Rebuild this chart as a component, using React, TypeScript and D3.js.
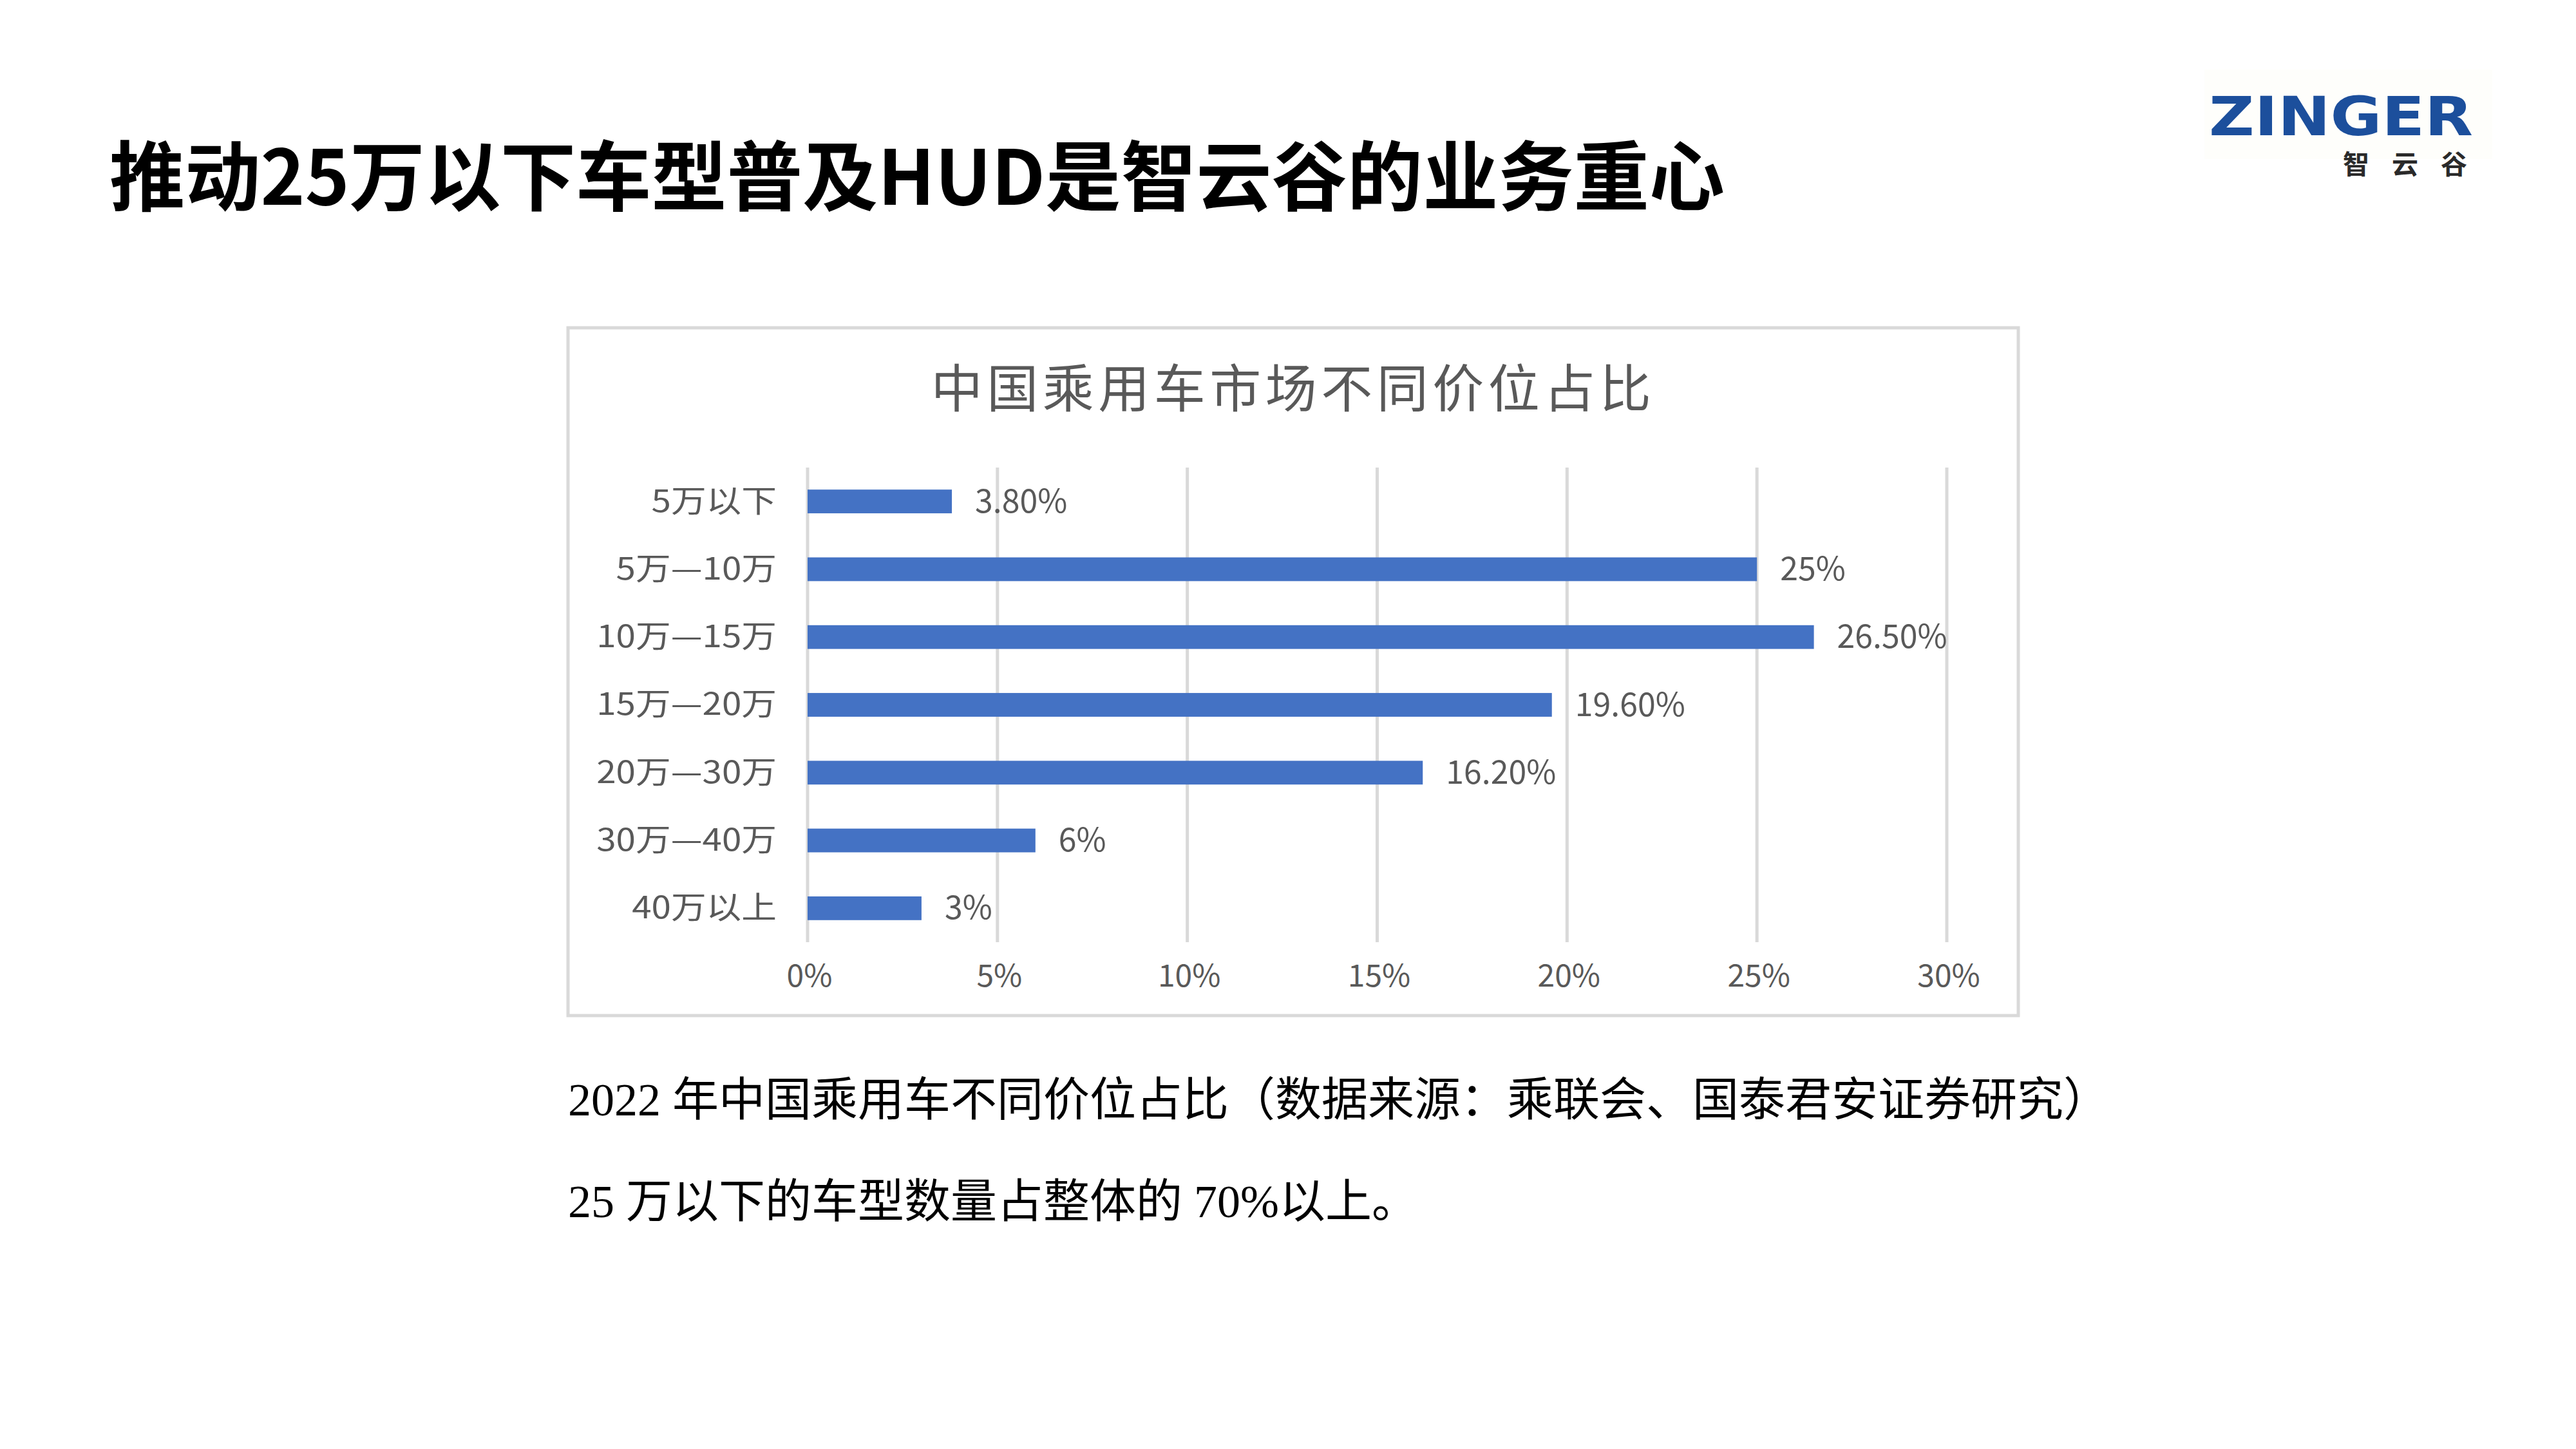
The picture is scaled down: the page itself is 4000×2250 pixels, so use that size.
import React from "react";
import * as d3 from "d3";

const pageTitle = "推动25万以下车型普及HUD是智云谷的业务重心";
const chartTitle = "中国乘用车市场不同价位占比";
const categories = ["5万以下", "5万—10万", "10万—15万", "15万—20万", "20万—30万", "30万—40万", "40万以上"];
const shares = [3.8, 25, 26.5, 19.6, 16.2, 6, 3];
const shareLabels = ["3.80%", "25%", "26.50%", "19.60%", "16.20%", "6%", "3%"];
const xTicks = [0, 5, 10, 15, 20, 25, 30];
const captionLines = [
  "2022 年中国乘用车不同价位占比（数据来源：乘联会、国泰君安证券研究）",
  "25 万以下的车型数量占整体的 70%以上。",
];
const logoWord = "ZINGER";
const logoChars = ["智", "云", "谷"];

const W = 4000;
const H = 2250;
const gray = "#595959";
const cjk = "'Noto Sans CJK SC', 'Noto Sans', sans-serif";

export default function App() {
  const x = d3.scaleLinear().domain([0, 30]).range([1254, 3023]);
  const y = d3
    .scaleBand<string>()
    .domain(categories)
    .range([726, 1463])
    .paddingInner(0.65)
    .paddingOuter(0.325);
  const fmt = (v: number) => `${v}%`;
  const mid = (c: string) => y(c)! + y.bandwidth() / 2 - 5;

  return (
    <svg
      width={W}
      height={H}
      viewBox={`0 0 ${W} ${H}`}
      style={{ position: "absolute", left: 0, top: 0, background: "#fff" }}
    >
      <rect x={0} y={0} width={W} height={H} fill="#fff" />
      {/* page title */}
      <text
        x={170}
        y={318}
        fontFamily={cjk}
        fontWeight={700}
        fontSize={118}
        fill="#000"
        textLength={2508}
        lengthAdjust="spacingAndGlyphs"
      >
        {pageTitle}
      </text>

      {/* logo */}
      <rect x={3423} y={108} width={447} height={139} fill="#fefefb" />
      <text
        x={3430}
        y={210}
        fontFamily="'DejaVu Sans', sans-serif"
        fontWeight={900}
        fontSize={84}
        fill="#1c4f9c"
        textLength={410}
        lengthAdjust="spacingAndGlyphs"
      >
        {logoWord}
      </text>
      {logoChars.map((c, i) => (
        <text
          key={c}
          x={3638 + i * 76}
          y={270}
          fontFamily={cjk}
          fontWeight={700}
          fontSize={41}
          fill="#2a2a2a"
        >
          {c}
        </text>
      ))}

      {/* chart frame */}
      <rect x={882} y={509} width={2252} height={1068} fill="#fff" stroke="#d9d9d9" strokeWidth={5} />
      <text
        x={2008}
        y={597}
        textAnchor="middle"
        dominantBaseline="central"
        fontFamily={cjk}
        fontSize={80}
        letterSpacing={6.5}
        fill={gray}
      >
        {chartTitle}
      </text>

      {/* gridlines */}
      {xTicks.map((t) => (
        <line key={t} x1={x(t)} x2={x(t)} y1={726} y2={1463} stroke="#d9d9d9" strokeWidth={5} />
      ))}

      {/* bars */}
      {categories.map((c, i) => (
        <rect
          key={c}
          x={x(0)}
          y={y(c)!}
          width={x(shares[i]) - x(0)}
          height={y.bandwidth()}
          fill="#4472c4"
        />
      ))}

      {/* value labels */}
      {categories.map((c, i) => (
        <text
          key={c}
          x={x(shares[i]) + 36}
          y={mid(c)}
          dominantBaseline="central"
          fontFamily={cjk}
          fontSize={50}
          fill={gray}
        >
          {shareLabels[i]}
        </text>
      ))}

      {/* category labels */}
      {categories.map((c) => (
        <text
          key={c}
          transform={`translate(1206,${mid(c)}) scale(1.14,1)`}
          textAnchor="end"
          dominantBaseline="central"
          fontFamily={cjk}
          fontSize={48}
          fill={gray}
        >
          {c}
        </text>
      ))}

      {/* x axis labels */}
      {xTicks.map((t) => (
        <text
          key={t}
          x={x(t) + 3}
          y={1511}
          textAnchor="middle"
          dominantBaseline="central"
          fontFamily={cjk}
          fontSize={48}
          fill={gray}
        >
          {fmt(t)}
        </text>
      ))}

      {/* caption */}
      {captionLines.map((line, i) => (
        <text
          key={i}
          x={882}
          y={1732 + i * 158}
          fontFamily="'Liberation Serif', 'Noto Sans CJK SC', serif"
          fontSize={72}
          fill="#000"
        >
          {line}
        </text>
      ))}
    </svg>
  );
}
